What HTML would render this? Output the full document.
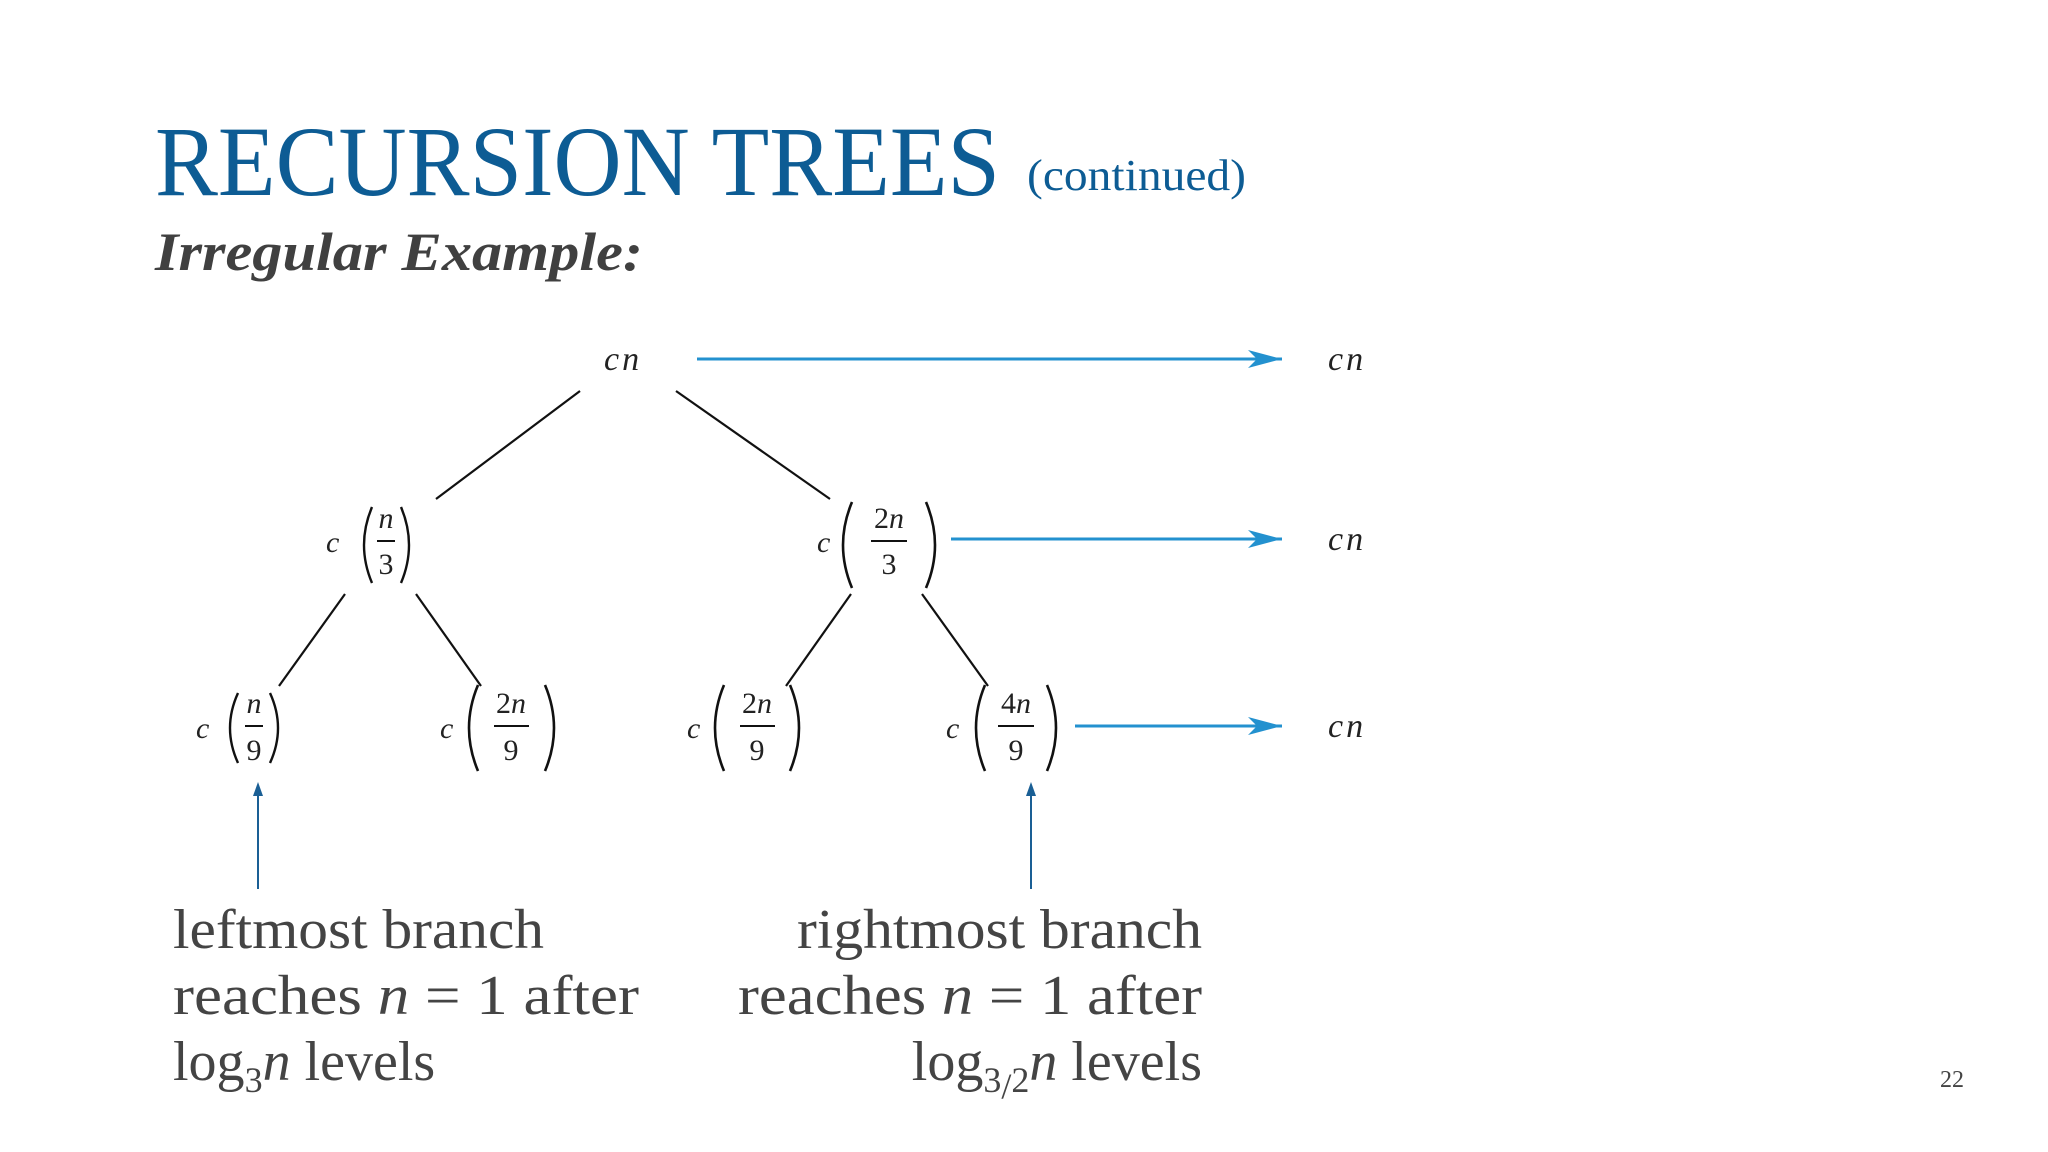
<!DOCTYPE html>
<html><head><meta charset="utf-8"><style>
html,body{margin:0;padding:0;background:#fff;}
svg{display:block;}
</style></head><body>
<svg width="2048" height="1152" viewBox="0 0 2048 1152" xmlns="http://www.w3.org/2000/svg" font-family="'Liberation Serif', serif">
<defs>
<marker id="ah" markerWidth="36" markerHeight="20" refX="34" refY="10" orient="auto" markerUnits="userSpaceOnUse">
<path d="M0,1 L34,10 L0,19 L9,10 Z" fill="#2391cf"/>
</marker>
<marker id="ub" markerWidth="14" markerHeight="16" refX="7" refY="1" orient="auto-start-reverse" markerUnits="userSpaceOnUse">
</marker>
</defs>
<!-- Title -->
<text x="155" y="195" font-size="100" fill="#0d5c94" textLength="845" lengthAdjust="spacingAndGlyphs">RECURSION TREES</text>
<text x="1027" y="190" font-size="44" fill="#0d5c94" textLength="219" lengthAdjust="spacingAndGlyphs">(continued)</text>
<text x="155" y="270" font-size="54" font-weight="bold" font-style="italic" fill="#404040" textLength="488" lengthAdjust="spacingAndGlyphs">Irregular Example:</text>

<!-- tree edges -->
<g stroke="#111" stroke-width="2.2">
<line x1="580" y1="391" x2="436" y2="499"/>
<line x1="676" y1="391" x2="830" y2="499"/>
<line x1="345" y1="594" x2="279" y2="686"/>
<line x1="416" y1="594" x2="481" y2="686"/>
<line x1="851" y1="594" x2="786" y2="686"/>
<line x1="922" y1="594" x2="988" y2="686"/>
</g>

<!-- blue arrows -->
<g stroke="#2391cf" stroke-width="3">
<line x1="697" y1="359" x2="1282" y2="359" marker-end="url(#ah)"/>
<line x1="951" y1="539" x2="1282" y2="539" marker-end="url(#ah)"/>
<line x1="1075" y1="726" x2="1282" y2="726" marker-end="url(#ah)"/>
</g>
<g font-style="italic" font-size="34" fill="#222">
<text x="604" y="370">c<tspan dx="3">n</tspan></text>
<text x="1328" y="370">c<tspan dx="3">n</tspan></text>
<text x="1328" y="550">c<tspan dx="3">n</tspan></text>
<text x="1328" y="737">c<tspan dx="3">n</tspan></text>
</g>

<!-- nodes -->
<g fill="#222" font-size="30">
<!-- c(n/3) -->
<text x="326" y="552" font-style="italic">c</text>
<path d="M372,507 Q356,545 372,583" fill="none" stroke="#111" stroke-width="2.4"/>
<path d="M401,507 Q417,545 401,583" fill="none" stroke="#111" stroke-width="2.4"/>
<text x="386" y="528" font-style="italic" text-anchor="middle">n</text>
<line x1="377" y1="541" x2="395" y2="541" stroke="#111" stroke-width="2"/>
<text x="386" y="574" text-anchor="middle">3</text>
<!-- c(2n/3) -->
<text x="817" y="552" font-style="italic">c</text>
<path d="M852,502 Q834,545 852,588" fill="none" stroke="#111" stroke-width="2.6"/>
<path d="M926,502 Q944,545 926,588" fill="none" stroke="#111" stroke-width="2.6"/>
<text x="889" y="528" text-anchor="middle">2<tspan font-style="italic">n</tspan></text>
<line x1="871" y1="541" x2="907" y2="541" stroke="#111" stroke-width="2"/>
<text x="889" y="574" text-anchor="middle">3</text>
<!-- c(n/9) -->
<text x="196" y="738" font-style="italic">c</text>
<path d="M238,693 Q222,728 238,763" fill="none" stroke="#111" stroke-width="2.4"/>
<path d="M270,693 Q286,728 270,763" fill="none" stroke="#111" stroke-width="2.4"/>
<text x="254" y="713" font-style="italic" text-anchor="middle">n</text>
<line x1="245" y1="726" x2="263" y2="726" stroke="#111" stroke-width="2"/>
<text x="254" y="760" text-anchor="middle">9</text>
<!-- c(2n/9) -->
<text x="440" y="738" font-style="italic">c</text>
<path d="M478,685 Q460,728 478,771" fill="none" stroke="#111" stroke-width="2.6"/>
<path d="M545,685 Q563,728 545,771" fill="none" stroke="#111" stroke-width="2.6"/>
<text x="511" y="713" text-anchor="middle">2<tspan font-style="italic">n</tspan></text>
<line x1="494" y1="726" x2="529" y2="726" stroke="#111" stroke-width="2"/>
<text x="511" y="760" text-anchor="middle">9</text>
<!-- c(2n/9) second -->
<text x="687" y="738" font-style="italic">c</text>
<path d="M724,685 Q706,728 724,771" fill="none" stroke="#111" stroke-width="2.6"/>
<path d="M790,685 Q808,728 790,771" fill="none" stroke="#111" stroke-width="2.6"/>
<text x="757" y="713" text-anchor="middle">2<tspan font-style="italic">n</tspan></text>
<line x1="740" y1="726" x2="775" y2="726" stroke="#111" stroke-width="2"/>
<text x="757" y="760" text-anchor="middle">9</text>
<!-- c(4n/9) -->
<text x="946" y="738" font-style="italic">c</text>
<path d="M985,685 Q967,728 985,771" fill="none" stroke="#111" stroke-width="2.6"/>
<path d="M1047,685 Q1065,728 1047,771" fill="none" stroke="#111" stroke-width="2.6"/>
<text x="1016" y="713" text-anchor="middle">4<tspan font-style="italic">n</tspan></text>
<line x1="998" y1="726" x2="1034" y2="726" stroke="#111" stroke-width="2"/>
<text x="1016" y="760" text-anchor="middle">9</text>
</g>

<!-- up arrows -->
<g stroke="#1a5f95" stroke-width="2">
<line x1="258" y1="889" x2="258" y2="792"/>
<line x1="1031" y1="889" x2="1031" y2="792"/>
</g>
<path d="M258,782 L253,796 L263,796 Z" fill="#1a5f95"/>
<path d="M1031,782 L1026,796 L1036,796 Z" fill="#1a5f95"/>

<!-- captions -->
<g font-size="56" fill="#444">
<text x="173" y="948" textLength="371" lengthAdjust="spacingAndGlyphs">leftmost branch</text>
<text x="173" y="1014" textLength="466" lengthAdjust="spacingAndGlyphs">reaches <tspan font-style="italic">n</tspan> = 1 after</text>
<text x="173" y="1080">log<tspan font-size="36" dy="12">3</tspan><tspan font-style="italic" dy="-12">n</tspan> levels</text>
<text x="1202" y="948" text-anchor="end" textLength="405" lengthAdjust="spacingAndGlyphs">rightmost branch</text>
<text x="1202" y="1014" text-anchor="end" textLength="464" lengthAdjust="spacingAndGlyphs">reaches <tspan font-style="italic">n</tspan> = 1 after</text>
<text x="1202" y="1080" text-anchor="end">log<tspan font-size="36" dy="12">3</tspan><tspan font-size="36" dy="6">/</tspan><tspan font-size="36" dy="-6">2</tspan><tspan font-style="italic" dy="-12">n</tspan> levels</text>
</g>

<text x="1952" y="1087" font-size="24" fill="#444" text-anchor="middle">22</text>
</svg>
</body></html>
